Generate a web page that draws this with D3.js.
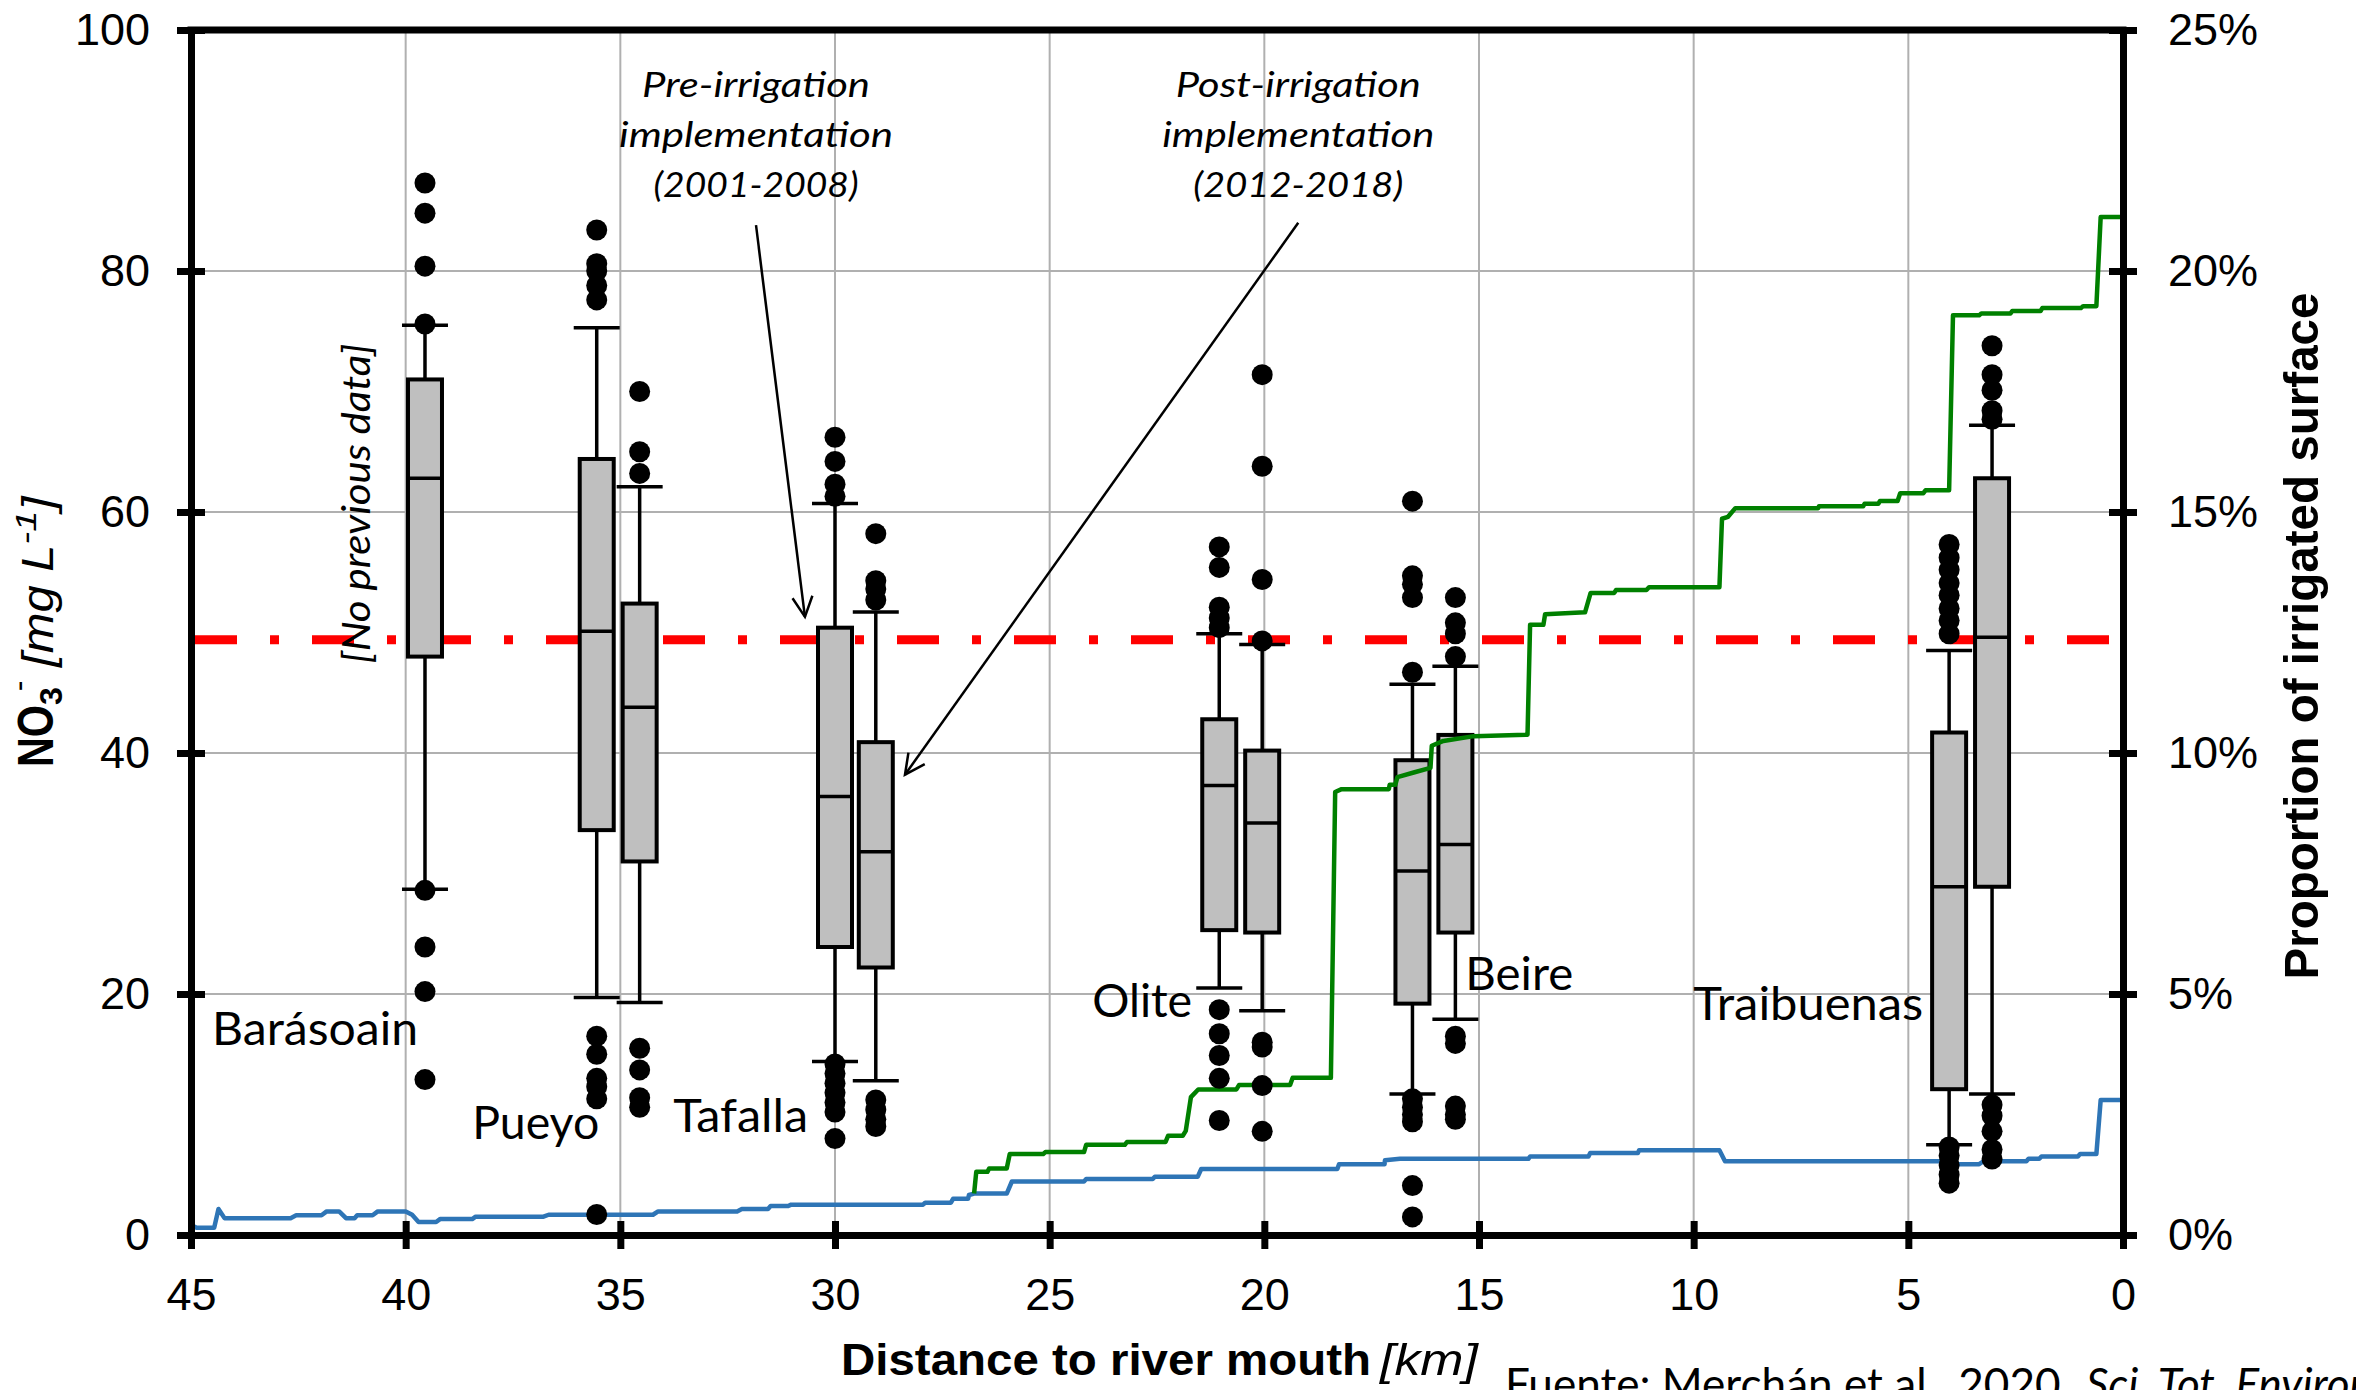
<!DOCTYPE html>
<html><head><meta charset="utf-8">
<script src="https://cdn.jsdelivr.net/npm/d3@7"></script>
<style>body{margin:0;background:#fff} svg{display:block}</style>
</head><body>
<svg id="chart" width="2356" height="1390"></svg>
<script>
// ---------------- DATA ----------------
const xTicks = [45,40,35,30,25,20,15,10,5,0];
const yTicks = [0,20,40,60,80,100];
const y2Ticks = [0,5,10,15,20,25];
const nitrateLimit = 49.4;

// Box plots (pre / post irrigation at each station)
const boxNames   = ["Barásoain","Pueyo pre","Pueyo post","Tafalla pre","Tafalla post","Olite pre","Olite post","Beire pre","Beire post","Traibuenas pre","Traibuenas post"];
const boxKm      = [39.55, 35.55, 34.55, 30.0, 29.05, 21.05, 20.05, 16.55, 15.55, 4.05, 3.05];
const boxLow     = [28.7, 19.7, 19.3, 14.4, 12.8, 20.5, 18.6, 11.7, 17.9, 7.5, 11.7];
const boxQ1      = [48.0, 33.6, 31.0, 23.9, 22.2, 25.3, 25.1, 19.2, 25.1, 12.1, 28.9];
const boxMedian  = [62.8, 50.1, 43.8, 36.4, 31.8, 37.3, 34.2, 30.2, 32.4, 28.9, 49.6];
const boxQ3      = [71.0, 64.4, 52.4, 50.4, 40.9, 42.8, 40.2, 39.4, 41.5, 41.7, 62.8];
const boxHigh    = [75.5, 75.3, 62.1, 60.7, 51.7, 49.9, 49.0, 45.7, 47.2, 48.5, 67.2];
const boxOutliers = [
  [87.3, 84.8, 80.4, 75.6, 28.6, 23.9, 20.2, 12.9],
  [83.4, 80.6, 80.0, 78.8, 77.6, 16.5, 15.0, 13.0, 12.3, 11.3, 1.7],
  [70.0, 65.0, 63.2, 15.5, 13.7, 11.4, 10.6],
  [66.2, 64.2, 62.3, 61.3, 14.2, 13.4, 12.6, 11.8, 11.0, 10.2, 8.0],
  [58.2, 54.3, 53.6, 52.7, 11.2, 10.4, 9.6, 9.0],
  [57.1, 55.4, 52.1, 51.2, 50.4, 18.7, 16.7, 14.9, 13.0, 9.5],
  [71.4, 63.8, 54.4, 49.3, 16.0, 15.6, 12.4, 8.6],
  [60.9, 54.7, 54.0, 52.9, 46.7, 11.3, 10.6, 10.0, 9.4, 4.1, 1.5],
  [52.9, 50.8, 49.9, 48.0, 16.5, 15.9, 10.7, 10.0, 9.6],
  [57.3, 56.2, 55.2, 54.1, 53.1, 52.0, 51.0, 49.9, 7.3, 6.6, 5.8, 5.0, 4.3],
  [73.8, 71.4, 70.1, 68.4, 67.7, 10.8, 9.9, 8.6, 7.1, 6.3]
];

// Proportion of irrigated surface [km, %]
const bluePct = [
  [45.0,0.21],[44.87,0.15],[44.46,0.15],[44.36,0.54],[44.22,0.35],[42.68,0.35],[42.55,0.41],[41.96,0.41],
  [41.84,0.49],[41.55,0.49],[41.39,0.35],[41.19,0.35],[41.13,0.41],[40.77,0.41],[40.65,0.49],[40.0,0.49],
  [39.85,0.42],[39.70,0.27],[39.29,0.27],[39.20,0.33],[38.45,0.33],[38.37,0.38],[36.79,0.38],[36.67,0.42],
  [34.24,0.42],[34.12,0.49],[32.28,0.49],[32.17,0.54],[31.56,0.54],[31.5,0.60],[31.09,0.60],[31.02,0.63],
  [27.95,0.63],[27.9,0.67],[27.3,0.67],[27.25,0.75],[26.9,0.75],[26.88,0.83],[26.76,0.86],[26.0,0.86],
  [25.88,1.11],[24.2,1.11],[24.15,1.16],[22.6,1.16],[22.55,1.21],[21.55,1.21],[21.47,1.37],[18.3,1.37],
  [18.26,1.47],[17.2,1.47],[17.19,1.55],[16.84,1.58],[13.85,1.58],[13.81,1.63],[12.45,1.63],[12.41,1.70],
  [11.3,1.70],[11.27,1.76],[9.4,1.76],[9.27,1.53],[4.05,1.53],[3.9,1.47],[3.35,1.47],[3.25,1.53],
  [2.25,1.53],[2.2,1.58],[1.95,1.58],[1.9,1.63],[1.05,1.63],[1.0,1.68],[0.62,1.68],[0.52,2.80],[0.0,2.80]
];
const greenPct = [
  [26.76,0.86],[26.71,1.31],[26.45,1.31],[26.41,1.38],[26.0,1.38],[25.93,1.68],[25.15,1.68],[25.1,1.72],
  [24.2,1.72],[24.15,1.87],[23.25,1.87],[23.2,1.93],[22.3,1.93],[22.24,2.06],[21.9,2.06],[21.83,2.16],
  [21.71,2.86],[21.54,3.02],[20.65,3.02],[20.59,3.11],[19.4,3.11],[19.34,3.26],[18.45,3.26],[18.35,9.19],
  [18.2,9.25],[17.1,9.25],[17.08,9.34],[16.95,9.34],[16.9,9.5],[16.5,9.6],[16.13,9.69],[16.1,10.15],
  [15.83,10.25],[15.12,10.35],[13.87,10.38],[13.81,12.66],[13.5,12.66],[13.46,12.88],[12.53,12.92],[12.4,13.32],
  [11.85,13.32],[11.81,13.38],[11.1,13.38],[11.04,13.44],[9.4,13.44],[9.34,14.86],[9.2,14.9],[9.03,15.08],
  [7.1,15.08],[7.08,15.12],[6.05,15.12],[6.02,15.17],[5.7,15.17],[5.66,15.23],[5.25,15.23],[5.19,15.39],
  [4.65,15.39],[4.6,15.45],[4.05,15.45],[3.96,19.08],[3.35,19.08],[3.30,19.12],[2.62,19.12],[2.58,19.17],
  [1.92,19.17],[1.88,19.23],[0.98,19.23],[0.93,19.27],[0.62,19.27],[0.52,21.12],[0.0,21.12]
];

// Station labels
const stationNames = ["Barásoain","Pueyo","Tafalla","Olite","Beire","Traibuenas"];
const stationLabelKm  = [44.51, 38.45, 33.77, 24.01, 15.32, 10.01];
const stationLabelVal = [15.77, 7.97, 8.55, 18.09, 20.33, 17.84];
const stationLabelLen = [206, 127, 135, 100, 108, 230];

// Annotations
const preLines  = ["Pre-irrigation","implementation","(2001-2008)"];
const postLines = ["Post-irrigation","implementation","(2012-2018)"];
const preLineLen  = [228, 274, 205];
const postLineLen = [245, 272, 210];
const annotLineVals = [94.4, 90.3, 86.1];
const preTextKm = 31.84, postTextKm = 19.21;
const preArrow  = [[31.84, 83.8],[30.70, 51.3]];
const postArrow = [[19.21, 84.0],[28.37, 38.2]];
const noDataKm = 40.83, noDataVal = 60.7;

// ---------------- CHART ----------------
const svg = d3.select("#chart");
const L = 191, R = 2123, T = 30, B = 1235;
const x = d3.scaleLinear().domain([45,0]).range([L,R]);
const y = d3.scaleLinear().domain([0,100]).range([B,T]);
const y2 = d3.scaleLinear().domain([0,25]).range([B,T]);

const ARIAL = "'Liberation Sans', Arial, sans-serif";
const CAL = "Lato, 'Open Sans', sans-serif";

// grid
const grid = svg.append("g").attr("stroke","#b0b0b0").attr("stroke-width",2);
grid.selectAll("line.v").data(xTicks.filter(d=>d>0 && d<45)).join("line")
  .attr("x1",d=>x(d)).attr("x2",d=>x(d)).attr("y1",T).attr("y2",B);
grid.selectAll("line.h").data(yTicks.filter(d=>d>0 && d<100)).join("line")
  .attr("x1",L).attr("x2",R).attr("y1",d=>y(d)).attr("y2",d=>y(d));

// red limit
svg.append("line").attr("x1",L+4).attr("x2",R).attr("y1",y(nitrateLimit)).attr("y2",y(nitrateLimit))
  .attr("stroke","#ff0000").attr("stroke-width",9).attr("stroke-dasharray","42,33,9,33");

// boxes
const boxW = 34, capW = 46;
const bx = svg.append("g");
boxKm.forEach((km,i)=>{
  const cx = x(km);
  const g = bx.append("g").attr("stroke","#000");
  g.append("line").attr("x1",cx).attr("x2",cx).attr("y1",y(boxHigh[i])).attr("y2",y(boxQ3[i])).attr("stroke-width",3.5);
  g.append("line").attr("x1",cx).attr("x2",cx).attr("y1",y(boxQ1[i])).attr("y2",y(boxLow[i])).attr("stroke-width",3.5);
  g.append("line").attr("x1",cx-capW/2).attr("x2",cx+capW/2).attr("y1",y(boxHigh[i])).attr("y2",y(boxHigh[i])).attr("stroke-width",3.5);
  g.append("line").attr("x1",cx-capW/2).attr("x2",cx+capW/2).attr("y1",y(boxLow[i])).attr("y2",y(boxLow[i])).attr("stroke-width",3.5);
  g.append("rect").attr("x",cx-boxW/2).attr("width",boxW).attr("y",y(boxQ3[i])).attr("height",y(boxQ1[i])-y(boxQ3[i]))
    .attr("fill","#bfbfbf").attr("stroke-width",4);
  g.append("line").attr("x1",cx-boxW/2).attr("x2",cx+boxW/2).attr("y1",y(boxMedian[i])).attr("y2",y(boxMedian[i])).attr("stroke-width",3.5);
});

// lines
const line = d3.line().x(d=>x(d[0])).y(d=>y2(d[1]));
svg.append("path").datum(bluePct).attr("d",line).attr("fill","none").attr("stroke","#2e75b6").attr("stroke-width",4.5).attr("stroke-linejoin","round");
svg.append("path").datum(greenPct).attr("d",line).attr("fill","none").attr("stroke","#008000").attr("stroke-width",4.5).attr("stroke-linejoin","round");

// outliers
boxKm.forEach((km,i)=>{
  svg.append("g").selectAll("circle").data(boxOutliers[i]).join("circle")
    .attr("cx",x(km)).attr("cy",d=>y(d)).attr("r",10.5).attr("fill","#000");
});

// frame top
svg.append("line").attr("x1",L).attr("x2",R).attr("y1",T).attr("y2",T).attr("stroke","#000").attr("stroke-width",7).attr("stroke-linecap","square");

// axes
function styleAxis(g, a1, attr){
  g.select(".domain").attr("stroke","#000").attr("stroke-width",7).attr("stroke-linecap","square");
  g.selectAll(".tick line").attr("stroke","#000").attr("stroke-width",7).attr(attr, a1);
  g.selectAll(".tick text").attr("font-family",ARIAL).attr("font-size",45).attr("fill","#000");
}
const gl = svg.append("g").attr("transform",`translate(${L},0)`)
  .call(d3.axisLeft(y).tickValues(yTicks).tickSize(14).tickSizeOuter(0).tickPadding(27).tickFormat(d3.format("d")));
styleAxis(gl, 14, "x1");
const gb = svg.append("g").attr("transform",`translate(0,${B})`)
  .call(d3.axisBottom(x).tickValues(xTicks).tickSize(14).tickSizeOuter(0).tickPadding(29).tickFormat(d3.format("d")));
styleAxis(gb, -14, "y1");
const gr = svg.append("g").attr("transform",`translate(${R},0)`)
  .call(d3.axisRight(y2).tickValues(y2Ticks).tickSize(14).tickSizeOuter(0).tickPadding(31).tickFormat(d=>d+"%"));
styleAxis(gr, -14, "x1");

// axis titles
svg.append("text").attr("x",841).attr("y",1375).attr("font-family",ARIAL).attr("font-weight","bold").attr("font-size",45)
  .attr("textLength",530).attr("lengthAdjust","spacingAndGlyphs").text("Distance to river mouth");
svg.append("text").attr("x",1380).attr("y",1375).attr("font-family",ARIAL).attr("font-style","italic").attr("font-size",45)
  .attr("textLength",98).attr("lengthAdjust","spacingAndGlyphs").text("[km]");

svg.append("text").attr("transform","translate(2318,636) rotate(-90)").attr("text-anchor","middle")
  .attr("font-family",ARIAL).attr("font-weight","bold").attr("font-size",49)
  .attr("textLength",687).attr("lengthAdjust","spacingAndGlyphs").text("Proportion of irrigated surface");

const lt = svg.append("text").attr("transform","translate(53,767) rotate(-90)").attr("font-family",ARIAL).attr("font-size",44);
lt.append("tspan").attr("font-weight","bold").attr("font-size",50).attr("textLength",62).attr("lengthAdjust","spacingAndGlyphs").text("NO");
lt.append("tspan").attr("font-weight","bold").attr("font-size",32).attr("dy",9).attr("textLength",18).text("3");
lt.append("tspan").attr("font-size",32).attr("dy",-33).attr("dx",-4).attr("textLength",10).text("-");
lt.append("tspan").attr("font-style","italic").attr("dy",24).attr("textLength",136).attr("lengthAdjust","spacingAndGlyphs").text(" [mg L");
lt.append("tspan").attr("font-style","italic").attr("font-size",30).attr("dy",-17).attr("textLength",34).attr("lengthAdjust","spacingAndGlyphs").text("-1");
lt.append("tspan").attr("font-style","italic").attr("dy",17).attr("textLength",14).attr("lengthAdjust","spacingAndGlyphs").text("]");

// station labels
stationNames.forEach((n,i)=>{
  svg.append("text").attr("x",x(stationLabelKm[i])).attr("y",y(stationLabelVal[i]))
    .attr("font-family",CAL).attr("font-size",46).attr("fill","#000")
    .attr("textLength",stationLabelLen[i]).attr("lengthAdjust","spacingAndGlyphs").text(n);
});

// annotations
function annot(lines, lens, km){
  lines.forEach((t,i)=>{
    svg.append("text").attr("x",x(km)).attr("y",y(annotLineVals[i])).attr("text-anchor","middle")
      .attr("font-family",CAL).attr("font-style","italic").attr("font-size",35)
      .attr("textLength",lens[i]).attr("lengthAdjust","spacingAndGlyphs").text(t);
  });
}
annot(preLines, preLineLen, preTextKm);
annot(postLines, postLineLen, postTextKm);

svg.append("defs").append("marker").attr("id","arr").attr("markerUnits","userSpaceOnUse")
  .attr("markerWidth",26).attr("markerHeight",26).attr("refX",22).attr("refY",12).attr("orient","auto")
  .append("path").attr("d","M2,2 L22,12 L2,22").attr("fill","none").attr("stroke","#000").attr("stroke-width",2.5);
[preArrow, postArrow].forEach(a=>{
  svg.append("line").attr("x1",x(a[0][0])).attr("y1",y(a[0][1])).attr("x2",x(a[1][0])).attr("y2",y(a[1][1]))
    .attr("stroke","#000").attr("stroke-width",2.5).attr("marker-end","url(#arr)");
});

svg.append("text").attr("transform",`translate(${x(noDataKm)},${y(noDataVal)}) rotate(-90)`).attr("text-anchor","middle")
  .attr("font-family",CAL).attr("font-style","italic").attr("font-size",38)
  .attr("textLength",320).attr("lengthAdjust","spacingAndGlyphs").text("[No previous data]");

// footer (cut at the bottom/right edge, as in the reference)
svg.append("text").attr("x",1505).attr("y",1400).attr("font-family",CAL).attr("font-size",44)
  .attr("textLength",566).attr("lengthAdjust","spacingAndGlyphs").text("Fuente: Merchán et al., 2020.");
svg.append("text").attr("x",2086).attr("y",1400).attr("font-family",CAL).attr("font-style","italic").attr("font-size",44)
  .text("Sci. Tot. Environ.");
</script>
</body></html>
